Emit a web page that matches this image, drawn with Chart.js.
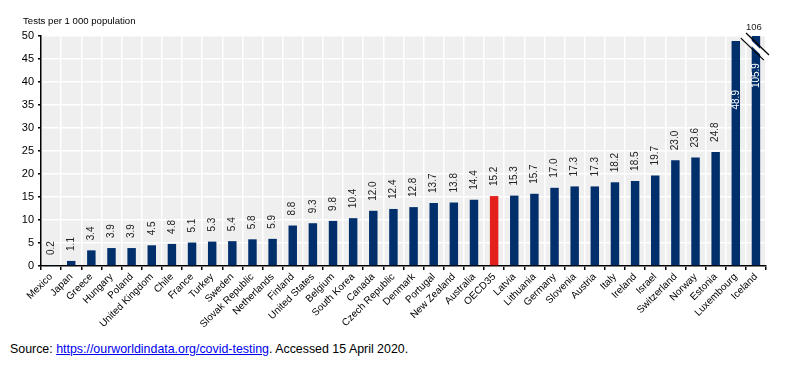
<!DOCTYPE html>
<html>
<head>
<meta charset="utf-8">
<script src="https://cdn.jsdelivr.net/npm/chart.js@4/dist/chart.umd.min.js"></script>
<style>
    html, body { margin: 0; padding: 0; background: #fff; }
    body { width: 790px; height: 370px; position: relative; overflow: hidden; font-family: "Liberation Sans", Arial, sans-serif; }
    #chart { position: absolute; left: 0; top: 0; }
    #source { position: absolute; left: 10px; top: 341px; font-size: 12.4px; line-height: 16px; color: #000; }
    #source a { color: #0000ee; text-decoration: underline; }
</style>
</head>
<body>
<canvas id="chart" width="790" height="335"></canvas>
<div id="source">Source: <a href="https://ourworldindata.org/covid-testing">https://ourworldindata.org/covid-testing</a>. Accessed 15 April 2020.</div>
<script>
// data
const countries = [
    'Mexico', 'Japan', 'Greece', 'Hungary', 'Poland', 'United Kingdom', 'Chile', 'France',
    'Turkey', 'Sweden', 'Slovak Republic', 'Netherlands', 'Finland', 'United States', 'Belgium',
    'South Korea', 'Canada', 'Czech Republic', 'Denmark', 'Portugal', 'New Zealand', 'Australia',
    'OECD35', 'Latvia', 'Lithuania', 'Germany', 'Slovenia', 'Austria', 'Italy', 'Ireland',
    'Israel', 'Switzerland', 'Norway', 'Estonia', 'Luxembourg', 'Iceland'
];
const testsPer1000 = [
    0.2, 1.1, 3.4, 3.9, 3.9, 4.5, 4.8, 5.1,
    5.3, 5.4, 5.8, 5.9, 8.8, 9.3, 9.8,
    10.4, 12.0, 12.4, 12.8, 13.7, 13.8, 14.4,
    15.2, 15.3, 15.7, 17.0, 17.3, 17.3, 18.2, 18.5,
    19.7, 23.0, 23.6, 24.8, 48.9, 105.9
];
const yTicks = [0, 5, 10, 15, 20, 25, 30, 35, 40, 45, 50];
const highlight = 'OECD35';

const axisMax = yTicks[yTicks.length - 1];
const FONT = '"Liberation Sans", Arial, sans-serif';
const NAVY = '#002f6c';
const RED = '#e3201b';

// labels that sit inside their bar (offset from bar top, px)
const insideLabel = { 'Luxembourg': 49, 'Iceland': 28 };

const plotBackground = {
    id: 'plotBackground',
    beforeDraw(chart) {
        const { ctx, chartArea: a } = chart;
        ctx.save();
        ctx.fillStyle = '#efefef';
        ctx.fillRect(a.left, a.top, a.right - a.left, a.bottom - a.top);
        ctx.restore();
    }
};

const axisTitle = {
    id: 'axisTitle',
    afterDraw(chart) {
        const ctx = chart.ctx;
        ctx.save();
        ctx.font = '9.6px ' + FONT;
        ctx.fillStyle = '#000';
        ctx.textBaseline = 'middle';
        ctx.fillText('Tests per 1 000 population', 23, 21);
        ctx.restore();
    }
};

const valueLabels = {
    id: 'valueLabels',
    afterDatasetsDraw(chart) {
        const ctx = chart.ctx;
        const bars = chart.getDatasetMeta(0).data;
        ctx.save();
        ctx.textBaseline = 'middle';
        bars.forEach((bar, i) => {
            const name = countries[i];
            const v = testsPer1000[i];
            ctx.save();
            ctx.font = '10px ' + FONT;
            if (insideLabel[name] !== undefined) {
                ctx.translate(bar.x, bar.y + insideLabel[name]);
                ctx.rotate(-Math.PI / 2);
                ctx.textAlign = 'right';
                ctx.fillStyle = '#fff';
            } else {
                ctx.translate(bar.x, bar.y - 10);
                ctx.rotate(-Math.PI / 2);
                ctx.textAlign = 'left';
                ctx.fillStyle = '#222';
            }
            ctx.fillText(v.toFixed(1), 0, 0);
            ctx.restore();

            // broken bar: rounded value on top and break marks
            if (v > axisMax) {
                ctx.fillStyle = '#222';
                ctx.textAlign = 'center';
                ctx.font = '9.5px ' + FONT;
                ctx.fillText(String(Math.round(v)), bar.x - 2, bar.y - 8);

                const cy = chart.scales.y.getPixelForValue(axisMax - 2.3);
                const cx = bar.x - 1;
                const dx = 11.5, dy = 11;
                ctx.lineCap = 'butt';
                ctx.strokeStyle = '#fff';
                ctx.lineWidth = 4;
                ctx.beginPath();
                ctx.moveTo(cx - dx, cy - dy);
                ctx.lineTo(cx + dx, cy + dy);
                ctx.stroke();
                ctx.strokeStyle = '#000';
                ctx.lineWidth = 1.2;
                [-2.6, 2.6].forEach(o => {
                    ctx.beginPath();
                    ctx.moveTo(cx - dx + o, cy - dy - o);
                    ctx.lineTo(cx + dx + o, cy + dy - o);
                    ctx.stroke();
                });
            }
        });
        ctx.restore();
    }
};

new Chart(document.getElementById('chart'), {
    type: 'bar',
    data: {
        labels: countries,
        datasets: [{
            data: testsPer1000.map(v => Math.min(v, axisMax + 0.2)),
            backgroundColor: countries.map(c => c === highlight ? RED : NAVY),
            barPercentage: 0.42,
            categoryPercentage: 1
        }]
    },
    options: {
        responsive: false,
        animation: false,
        devicePixelRatio: 1,
        layout: { padding: { top: 36, right: 24, left: 0, bottom: 0 } },
        plugins: {
            legend: { display: false },
            tooltip: { enabled: false }
        },
        scales: {
            x: {
                offset: true,
                grid: { color: '#fff', lineWidth: 1.5, tickColor: '#000', tickLength: 4, offset: true },
                border: { color: '#000', width: 1.5 },
                ticks: {
                    autoSkip: false,
                    minRotation: 45,
                    maxRotation: 45,
                    padding: 1,
                    color: '#000',
                    font: { family: FONT, size: 10 }
                },
                afterFit: s => { s.height = 69; }
            },
            y: {
                min: 0,
                max: axisMax,
                clip: false,
                afterBuildTicks: s => { s.ticks = yTicks.map(v => ({ value: v })); },
                grid: { color: '#fff', lineWidth: 1.5, tickColor: '#000', tickLength: 3 },
                border: { color: '#000', width: 1.5 },
                ticks: {
                    padding: 4,
                    color: '#000',
                    font: { family: FONT, size: 11 }
                },
                afterFit: s => { s.width = 41; }
            }
        }
    },
    plugins: [plotBackground, axisTitle, valueLabels]
});
</script>
</body>
</html>
